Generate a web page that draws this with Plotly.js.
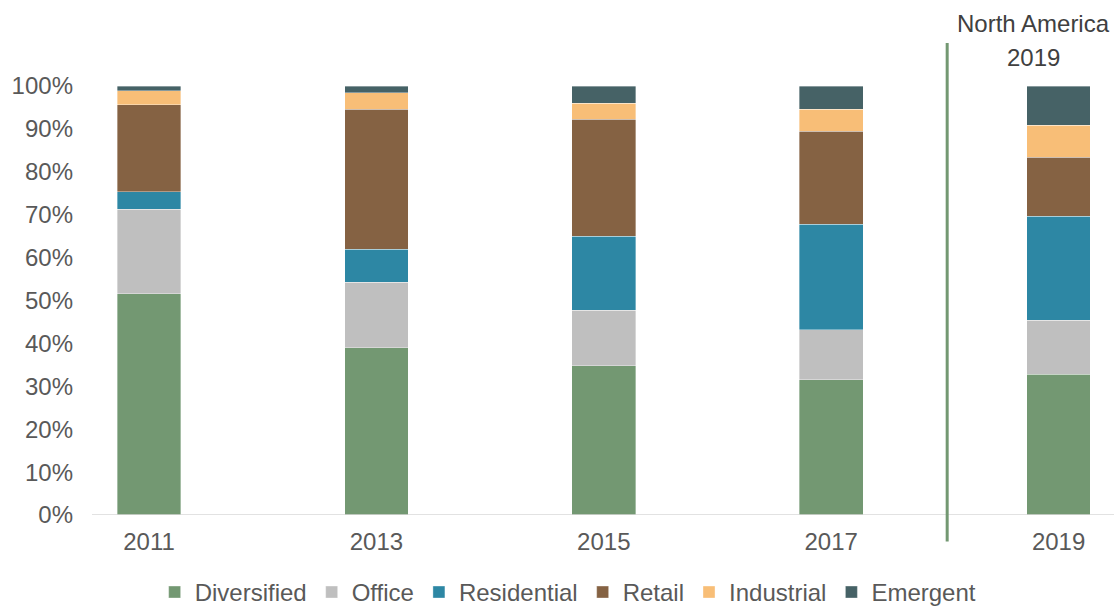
<!DOCTYPE html>
<html>
<head>
<meta charset="utf-8">
<script src="https://cdn.plot.ly/plotly-3.0.1.min.js"></script>
<style>html,body{margin:0;padding:0;background:#fff;}#chart{width:1114px;height:607px;}</style>
</head>
<body>
<div id="chart"></div>
<script>
const years = ['2011', '2013', '2015', '2017', '2019'];
const diversified = [51.6, 39.0, 34.8, 31.5, 32.8];
const office      = [19.7, 15.2, 12.9, 11.7, 12.6];
const residential = [4.0, 7.8, 17.3, 24.6, 24.2];
const retail      = [20.3, 32.6, 27.2, 21.7, 13.8];
const industrial  = [3.3, 3.8, 3.8, 5.1, 7.5];
const emergent    = [1.1, 1.6, 4.0, 5.4, 9.1];
const yTickVals = [0, 10, 20, 30, 40, 50, 60, 70, 80, 90, 100];
const yTickText = ['0%', '10%', '20%', '30%', '40%', '50%', '60%', '70%', '80%', '90%', '100%'];

const series = [
  {name: 'Diversified', y: diversified, color: '#739872'},
  {name: 'Office', y: office, color: '#bfbfbf'},
  {name: 'Residential', y: residential, color: '#2d87a4'},
  {name: 'Retail', y: retail, color: '#856243'},
  {name: 'Industrial', y: industrial, color: '#f8be77'},
  {name: 'Emergent', y: emergent, color: '#466266'}
];

const FONT = 'Arial, "Liberation Sans", sans-serif';
const FS = 24;
const traces = series.map(s => ({
  type: 'bar',
  name: s.name,
  x: years,
  y: s.y,
  width: 0.28,
  marker: {color: s.color, line: {color: 'rgba(255,255,255,0.45)', width: 0.8}},
  hoverinfo: 'skip'
}));

const layout = {
  width: 1114,
  height: 607,
  margin: {l: 92, r: 0, t: 86, b: 91.5, pad: 0, autoexpand: false},
  paper_bgcolor: '#ffffff',
  plot_bgcolor: '#ffffff',
  barmode: 'stack',
  showlegend: true,
  font: {family: FONT, size: FS, color: '#595959'},
  xaxis: {
    type: 'category',
    range: [-0.2507, 4.2436],
    showgrid: false,
    zeroline: false,
    showline: false,
    ticks: '',
    ticklabelstandoff: 10,
    tickfont: {family: FONT, size: FS, color: '#595959'},
    fixedrange: true,
    automargin: false
  },
  yaxis: {
    range: [0, 100],
    tickvals: yTickVals,
    ticktext: yTickText,
    showgrid: false,
    zeroline: false,
    showline: false,
    ticks: '',
    ticklabelstandoff: 18,
    tickfont: {family: FONT, size: FS, color: '#595959'},
    fixedrange: true,
    automargin: false
  },
  legend: {
    orientation: 'h',
    xref: 'container',
    yref: 'container',
    x: 0.51,
    xanchor: 'center',
    y: 0.024,
    yanchor: 'middle',
    itemwidth: 30,
    font: {family: FONT, size: FS, color: '#595959'},
    traceorder: 'normal',
    itemclick: false,
    itemdoubleclick: false
  },
  shapes: [
    {type: 'line', xref: 'paper', yref: 'y', x0: 0, x1: 1, y0: 0, y1: 0,
     line: {color: '#d9d9d9', width: 1.5}, layer: 'above'},
    {type: 'line', xref: 'x', yref: 'paper', x0: 3.51, x1: 3.51, y0: -0.0617, y1: 1.1001,
     line: {color: '#739872', width: 3}}
  ],
  annotations: [
    {text: 'North America', xref: 'x', yref: 'paper', x: 3.89, y: 1.146, showarrow: false,
     xanchor: 'center', yanchor: 'middle', font: {family: FONT, size: FS, color: '#404040'}},
    {text: '2019', xref: 'x', yref: 'paper', x: 3.89, y: 1.066, showarrow: false,
     xanchor: 'center', yanchor: 'middle', font: {family: FONT, size: FS, color: '#404040'}}
  ]
};

Plotly.newPlot('chart', traces, layout, {displayModeBar: false, staticPlot: true});
</script>
</body>
</html>
